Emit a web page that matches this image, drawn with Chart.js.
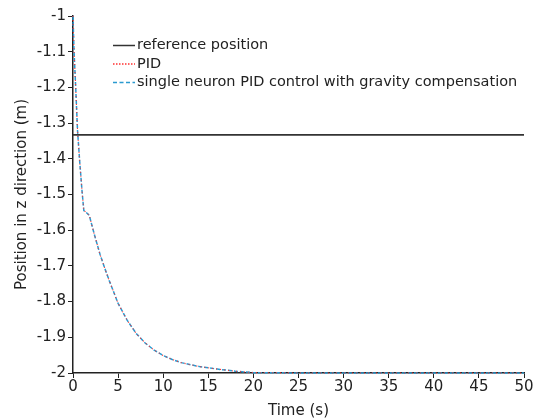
<!DOCTYPE html>
<html>
<head>
<meta charset="utf-8">
<script src="https://cdn.jsdelivr.net/npm/chart.js@4.4.1/dist/chart.umd.min.js"></script>
<style>
  html, body { margin: 0; padding: 0; background: #fff; }
  #wrap { width: 539px; height: 420px; position: relative; }
</style>
</head>
<body>
<div id="wrap"><canvas id="myChart" width="539" height="420"></canvas></div>
<script>
// values
var refTime = [0, 50];
var refPos = [-1.333, -1.333];

var simTime = [0, 0.1, 0.3, 0.5, 0.75, 1.0, 1.2, 1.5, 1.8, 2.4, 3.0, 3.5, 4.0, 5.0, 6.0, 7.0, 8.0, 9.0, 10, 11, 12, 14, 16, 18, 20, 25, 30, 35, 40, 45, 50];
var pidPos = [-1.0, -1.09, -1.2, -1.32, -1.41, -1.49, -1.545, -1.551, -1.558, -1.615, -1.668, -1.705, -1.74, -1.805, -1.852, -1.889, -1.916, -1.936, -1.951, -1.962, -1.971, -1.982, -1.989, -1.995, -1.999, -2.0, -2.0, -2.0, -2.0, -2.0, -2.0];
var neuronPos = [-1.0, -1.09, -1.2, -1.32, -1.41, -1.49, -1.545, -1.551, -1.558, -1.615, -1.668, -1.705, -1.74, -1.805, -1.852, -1.889, -1.916, -1.936, -1.951, -1.962, -1.971, -1.982, -1.989, -1.995, -1.999, -2.0, -2.0, -2.0, -2.0, -2.0, -2.0];

var xTicks = [0, 5, 10, 15, 20, 25, 30, 35, 40, 45, 50];
var yTicks = [-1, -1.1, -1.2, -1.3, -1.4, -1.5, -1.6, -1.7, -1.8, -1.9, -2];

var legendNames = ['reference position', 'PID', 'single neuron PID control with gravity compensation'];

function pts(xs, ys) {
    return xs.map(function (x, i) { return {x: x, y: ys[i]}; });
}

var font = '"DejaVu Sans", sans-serif';

// legend drawn inside the plot, top left, like the original
var insideLegend = {
    id: 'insideLegend',
    afterDraw: function (chart) {
        var ctx = chart.ctx;
        var sets = chart.data.datasets;
        var dashes = [[], [1.5, 1.5], [4, 2.5]];
        ctx.save();
        ctx.font = '14.5px ' + font;
        ctx.textBaseline = 'middle';
        for (var i = 0; i < sets.length; i++) {
            var ds = sets[i];
            var y = 45.5 + i * 18.5;
            ctx.beginPath();
            ctx.strokeStyle = ds.borderColor;
            ctx.lineWidth = 1.5;
            ctx.setLineDash(dashes[i]);
            ctx.moveTo(113, y);
            ctx.lineTo(135, y);
            ctx.stroke();
            ctx.setLineDash([]);
            ctx.fillStyle = '#222';
            ctx.fillText(legendNames[i], 137, y);
        }
        ctx.restore();
    }
};

var ctx = document.getElementById('myChart').getContext('2d');
var myChart = new Chart(ctx, {
    type: 'line',
    data: {
        datasets: [{
            label: legendNames[0],
            data: pts(refTime, refPos),
            borderColor: '#333333',
            borderWidth: 1.6,
            pointRadius: 0,
            clip: 4
        }, {
            label: legendNames[1],
            data: pts(simTime, pidPos),
            borderColor: '#ff3030',
            borderWidth: 1.1,
            borderDash: [1, 3],
            pointRadius: 0,
            clip: 4
        }, {
            label: legendNames[2],
            data: pts(simTime, neuronPos),
            borderColor: '#2a9ad0',
            borderWidth: 1.5,
            borderDash: [4, 2],
            pointRadius: 0,
            clip: 4
        }]
    },
    options: {
        responsive: false,
        animation: false,
        layout: {
            padding: {top: 16, right: 15, left: 0, bottom: 0}
        },
        plugins: {
            legend: {display: false},
            tooltip: {enabled: false}
        },
        scales: {
            x: {
                type: 'linear',
                min: 0,
                max: 50,
                afterBuildTicks: function (s) { s.ticks = xTicks.map(function (v) { return {value: v}; }); },
                afterFit: function (s) { s.height = 47; },
                ticks: {
                    color: '#222',
                    font: {family: font, size: 15},
                    padding: 0,
                    maxRotation: 0
                },
                grid: {drawOnChartArea: false, color: '#222', tickLength: 5},
                border: {color: '#222', width: 1.5},
                title: {
                    display: true,
                    text: 'Time (s)',
                    color: '#222',
                    font: {family: font, size: 15},
                    padding: {top: 0, bottom: 0}
                }
            },
            y: {
                type: 'linear',
                min: -2,
                max: -1,
                afterBuildTicks: function (s) { s.ticks = yTicks.map(function (v) { return {value: v}; }); },
                afterFit: function (s) { s.width = 73; },
                ticks: {
                    color: '#222',
                    font: {family: font, size: 15},
                    padding: 2,
                    callback: function (v) {
                        var r = Math.round(v * 10) / 10;
                        return Number.isInteger(r) ? String(r) : r.toFixed(1);
                    }
                },
                grid: {drawOnChartArea: false, color: '#222', tickLength: 5},
                border: {color: '#222', width: 1.5},
                title: {
                    display: true,
                    text: 'Position in z direction (m)',
                    color: '#222',
                    font: {family: font, size: 15},
                    padding: {top: 13, bottom: 0}
                }
            }
        }
    },
    plugins: [insideLegend]
});
</script>
</body>
</html>
